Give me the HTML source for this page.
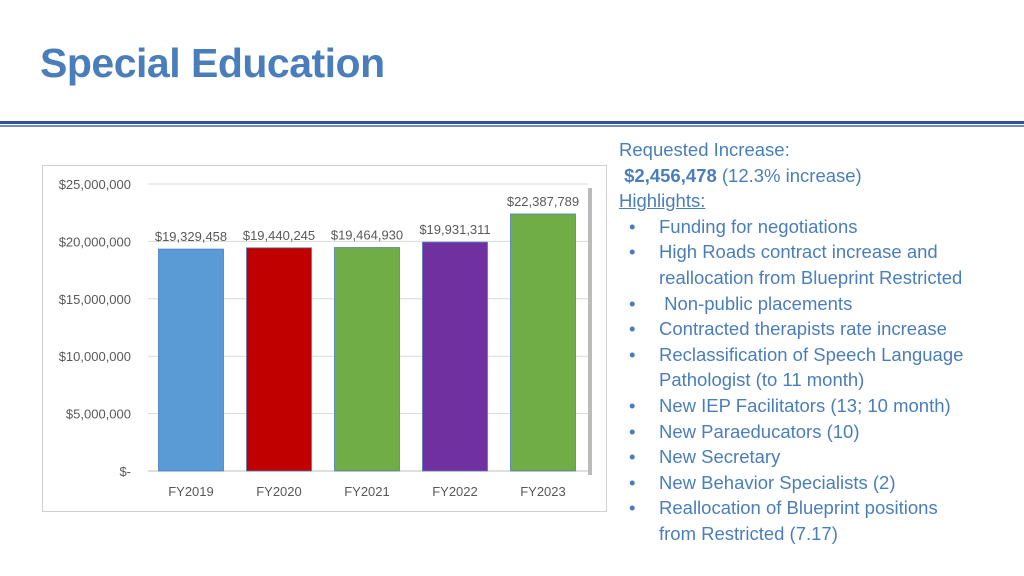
<!DOCTYPE html>
<html><head><meta charset="utf-8"><style>
body{margin:0;width:1024px;height:576px;background:#fff;position:relative;overflow:hidden;font-family:"Liberation Sans",sans-serif}
.title{position:absolute;left:40px;top:40px;font-size:41px;font-weight:bold;color:#4a7ebb;letter-spacing:-0.5px}
.rule1{position:absolute;left:0;top:121px;width:1024px;height:3px;background:#2f4f9f}
.rule2{position:absolute;left:0;top:125px;width:1024px;height:2px;background:#6f8fcf}
.txt{position:absolute;left:619px;top:137px;color:#4a7ebb;font-size:18.5px;line-height:25.6px;white-space:nowrap}
.txt ul{margin:0;padding:0;list-style:none}
.txt li{position:relative;padding-left:40px}
.txt li:before{content:"•";position:absolute;left:10px}
</style></head><body>
<div class="title">Special Education</div>
<div class="rule1"></div>
<div class="rule2"></div>
<svg width="1024" height="576" style="position:absolute;left:0;top:0">
<rect x="42.5" y="165.5" width="564" height="346" fill="#fff" stroke="#d0d0d0"/>
<g id="grid"></g><g id="bars"></g><g id="labels"></g>
</svg>
<div class="txt">
<div>Requested Increase:</div>
<div>&nbsp;<b>$2,456,478</b> (12.3% increase)</div>
<div style="text-decoration:underline">Highlights:</div>
<ul>
<li>Funding for negotiations</li>
<li>High Roads contract increase and<br>reallocation from Blueprint Restricted</li>
<li>&nbsp;Non-public placements</li>
<li>Contracted therapists rate increase</li>
<li>Reclassification of Speech Language<br>Pathologist (to 11 month)</li>
<li>New IEP Facilitators (13; 10 month)</li>
<li>New Paraeducators (10)</li>
<li>New Secretary</li>
<li>New Behavior Specialists (2)</li>
<li>Reallocation of Blueprint positions<br>from Restricted (7.17)</li>
</ul></div>
<script>
const categories=["FY2019","FY2020","FY2021","FY2022","FY2023"];
const values=[19329458,19440245,19464930,19931311,22387789];
const valueLabels=["$19,329,458","$19,440,245","$19,464,930","$19,931,311","$22,387,789"];
const barColors=["#5b9bd5","#c00000","#70ad47","#7030a0","#70ad47"];
const ticks=[0,5000000,10000000,15000000,20000000,25000000];
const tickLabels=["$-","$5,000,000","$10,000,000","$15,000,000","$20,000,000","$25,000,000"];
const NS="http://www.w3.org/2000/svg";
const y0=471,y1=184,vmax=25000000,xL=148,xR=588,step=88;
const Y=v=>y0-(v/vmax)*(y0-y1);
const X=i=>xL+step/2+i*step-1;
function mk(t,a,p){const e=document.createElementNS(NS,t);for(const k in a)e.setAttribute(k,a[k]);document.getElementById(p).appendChild(e);return e;}
ticks.forEach((t,i)=>{
 const l=mk("line",{x1:xL,x2:xR,y1:Y(t),y2:Y(t),stroke:i==0?"#bfbfbf":"#d9d9d9","stroke-width":1},"grid");
 
 
 const tx=mk("text",{x:131,y:Y(t)+5,"text-anchor":"end","font-size":"13",fill:"#595959"},"labels");
 tx.textContent=tickLabels[i];
 
 
});
mk("rect",{x:xR,y:Y(25000000)+4,width:4,height:y0-Y(25000000),fill:"#bbb"},"grid");
categories.forEach((c,i)=>{
 const w=65,x=X(i)-w/2;
 const r=mk("rect",{x:x,y:Y(values[i]),width:w,height:y0-Y(values[i]),fill:barColors[i],stroke:"#4a7ebb","stroke-width":0.8},"bars");
 
 
 const v=mk("text",{x:X(i),y:Y(values[i])-8,"text-anchor":"middle","font-size":"13",fill:"#595959"},"labels");
 v.textContent=valueLabels[i];
 
 
 const xl=mk("text",{x:X(i),y:496,"text-anchor":"middle","font-size":"13",fill:"#595959"},"labels");
 xl.textContent=c;
 
 
});
</script>
</body></html>
